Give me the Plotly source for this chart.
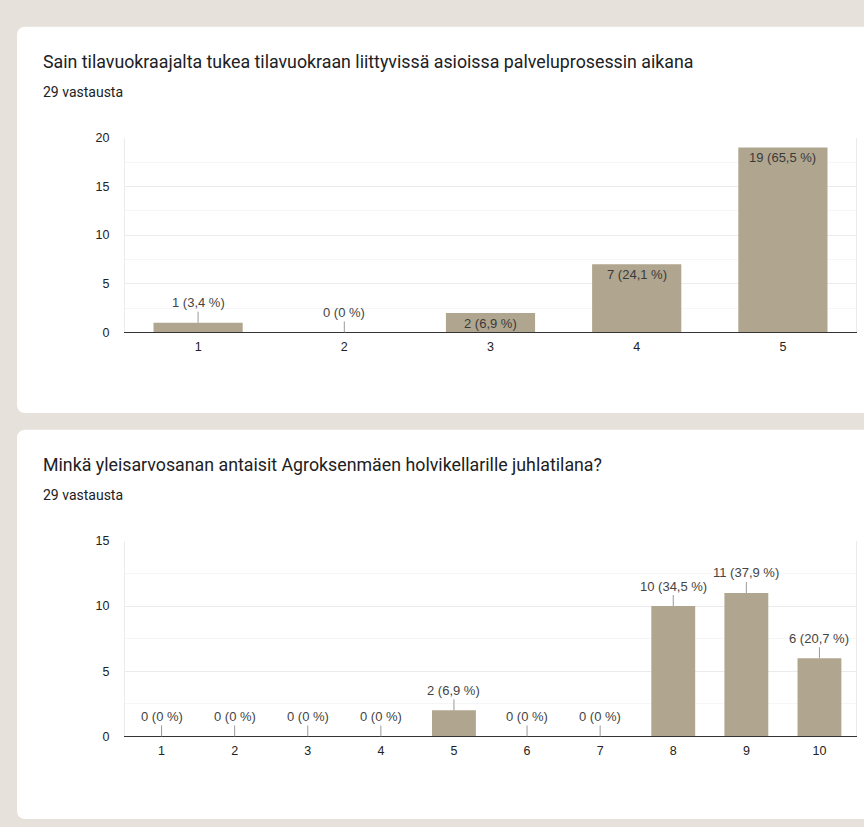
import plotly.graph_objects as go

# Survey question 1: support from the venue landlord (scale 1-5)
q1_title = "Sain tilavuokraajalta tukea tilavuokraan liittyvissä asioissa palveluprosessin aikana"
q1_categories = ["1", "2", "3", "4", "5"]
q1_counts = [1, 0, 2, 7, 19]
q1_yticks = [0, 5, 10, 15, 20]

# Survey question 2: overall grade for the vaulted cellar (scale 1-10)
q2_title = "Minkä yleisarvosanan antaisit Agroksenmäen holvikellarille juhlatilana?"
q2_categories = ["1", "2", "3", "4", "5", "6", "7", "8", "9", "10"]
q2_counts = [0, 0, 0, 0, 2, 0, 0, 10, 11, 6]
q2_yticks = [0, 5, 10, 15]

W, H = 864, 827
PAGE_BG = "#e6e2db"
BAR = "#b0a58e"
LABEL_FONT = "Liberation Sans, Arial, sans-serif"
TITLE_FONT = "Roboto, Noto Sans, sans-serif"


def px(x):
    return x / W


def py(y):
    return 1 - y / H


def pct_label(v, total):
    p = round(v / total * 100, 1)
    s = "0" if v == 0 else f"{p:.1f}".replace(".", ",")
    return f"{v} ({s} %)"


def card_path(x0, y0, x1, y1, r=9):
    # rounded rectangle in paper coordinates
    rx, ry = r / W, r / H
    X0, X1 = px(x0), px(x1)
    Y0, Y1 = py(y0), py(y1)  # Y0 top, Y1 bottom
    return (f"M {X0 + rx},{Y0} L {X1 - rx},{Y0} Q {X1},{Y0} {X1},{Y0 - ry} "
            f"L {X1},{Y1 + ry} Q {X1},{Y1} {X1 - rx},{Y1} "
            f"L {X0 + rx},{Y1} Q {X0},{Y1} {X0},{Y1 + ry} "
            f"L {X0},{Y0 - ry} Q {X0},{Y0} {X0 + rx},{Y0} Z")


fig = go.Figure()

charts = [
    # (title, categories, counts, yticks, axis suffix, card top/bottom, plot top/bottom, min value for inside label)
    (q1_title, q1_categories, q1_counts, q1_yticks, "", (20, 413), (133, 331), 2),
    (q2_title, q2_categories, q2_counts, q2_yticks, "2", (430, 826), (543, 742), None),
]

shapes = []
annotations = []
for title, cats, counts, yticks, sfx, (ct, cb), (pt, pb), inside_min in charts:
    total = sum(counts)
    xa, ya = "x" + sfx, "y" + sfx
    fig.add_trace(go.Bar(
        x=cats, y=counts, xaxis=xa, yaxis=ya,
        marker=dict(color=BAR, line=dict(width=0)),
        width=0.61 if len(cats) <= 5 else 0.6,
        hoverinfo="skip", showlegend=False,
    ))

    shapes.append(dict(type="path", xref="paper", yref="paper",
                       path=card_path(17, ct, 880, cb),
                       fillcolor="white", line=dict(width=0), layer="below"))

    annotations.append(dict(xref="paper", yref="paper", x=px(41), y=py(ct + 35),
                            xanchor="left", yanchor="middle", showarrow=False,
                            text=title, font=dict(family=TITLE_FONT, size=17.8, color="#202124")))
    annotations.append(dict(xref="paper", yref="paper", x=px(41), y=py(ct + 66),
                            xanchor="left", yanchor="middle", showarrow=False,
                            text=f"{total} vastausta",
                            font=dict(family=TITLE_FONT, size=14, color="#202124")))

    # value labels; category axes place annotations by category index
    for i, v in enumerate(counts):
        label = pct_label(v, total)
        if inside_min is not None and v >= inside_min:
            annotations.append(dict(xref=xa, yref=ya, x=i, y=v, yanchor="top",
                                    showarrow=False, yshift=-1, text=label,
                                    font=dict(family=LABEL_FONT, size=13, color="#3a3a3a")))
        else:
            annotations.append(dict(xref=xa, yref=ya, x=i, y=v, showarrow=True,
                                    arrowhead=0, arrowwidth=1, arrowcolor="#9a9a9a",
                                    ax=0, ay=-20, text=label,
                                    font=dict(family=LABEL_FONT, size=13, color="#444444")))

    axis_x = dict(domain=[px(125), px(856)], anchor=ya, type="category",
                  range=[-0.5, len(cats) - 0.5],
                  showline=True, linecolor="#333333", linewidth=1,
                  showgrid=False, ticks="", ticklabelstandoff=3,
                  tickfont=dict(family=LABEL_FONT, size=12.5, color="#222222"),
                  fixedrange=True)
    axis_y = dict(domain=[py(pb), py(pt)], anchor=xa, range=[0, yticks[-1]],
                  tickvals=yticks, showgrid=True, gridcolor="#ebebeb", gridwidth=1,
                  minor=dict(dtick=2.5, showgrid=True, gridcolor="#f6f6f6"),
                  showline=True, mirror=True, linecolor="#ebebeb", linewidth=1,
                  zeroline=False, ticks="", ticklabelstandoff=12,
                  tickfont=dict(family=LABEL_FONT, size=12.5, color="#222222"),
                  fixedrange=True)
    fig.layout["xaxis" + sfx] = axis_x
    fig.layout["yaxis" + sfx] = axis_y

fig.update_layout(
    width=W, height=H,
    margin=dict(l=0, r=0, t=0, b=0),
    paper_bgcolor=PAGE_BG,
    plot_bgcolor="white",
    bargap=0.39,
    shapes=shapes,
    annotations=annotations,
)

fig.write_html("out.html")
